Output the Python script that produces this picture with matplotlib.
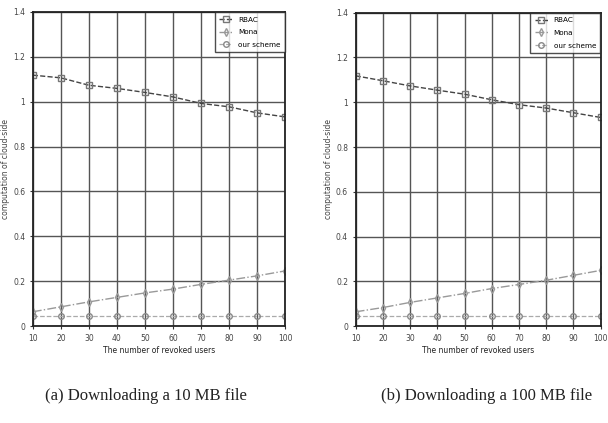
import matplotlib.pyplot as plt
import numpy as np

# revoked users on the x axis
users = [10, 20, 30, 40, 50, 60, 70, 80, 90, 100]

# (a) 10 MB file
rbac_a = [1.118, 1.106, 1.073, 1.059, 1.041, 1.021, 0.992, 0.977, 0.950, 0.932]
mona_a = [0.064, 0.086, 0.108, 0.128, 0.148, 0.165, 0.186, 0.205, 0.224, 0.246]
ours_a = [0.045, 0.045, 0.045, 0.045, 0.045, 0.045, 0.045, 0.045, 0.045, 0.045]

# (b) 100 MB file
rbac_b = [1.118, 1.096, 1.073, 1.054, 1.036, 1.011, 0.989, 0.974, 0.953, 0.932]
mona_b = [0.064, 0.083, 0.106, 0.126, 0.146, 0.168, 0.186, 0.205, 0.227, 0.249]
ours_b = [0.045, 0.045, 0.045, 0.045, 0.045, 0.045, 0.045, 0.045, 0.045, 0.045]

captions = ["(a) Downloading a 10 MB file", "(b) Downloading a 100 MB file"]
yticks = [0, 0.2, 0.4, 0.6, 0.8, 1, 1.2, 1.4]
ytick_labels = ["0", "0.2", "0.4", "0.6", "0.8", "1", "1.2", "1.4"]

fig = plt.figure(figsize=(6.08, 4.23), dpi=100)
ax1 = fig.add_axes([0.054, 0.229, 0.415, 0.743])
ax2 = fig.add_axes([0.585, 0.229, 0.403, 0.741])


def draw(ax, rbac, mona, ours):
    ax.plot(users, rbac, color='#444444', linestyle='--', marker='s', markersize=5,
            markerfacecolor='none', markeredgecolor='#777777', linewidth=1.0, label='RBAC')
    ax.plot(users, mona, color='#999999', linestyle='-.', marker='d', markersize=4,
            markerfacecolor='none', markeredgecolor='#999999', linewidth=1.0, label='Mona')
    ax.plot(users, ours, color='#aaaaaa', linestyle='--', marker='o', markersize=4,
            markerfacecolor='none', markeredgecolor='#888888', linewidth=0.9, label='our scheme')
    ax.set_xlim(10, 100)
    ax.set_ylim(0, 1.4)
    ax.set_xticks(users)
    ax.set_yticks(yticks)
    ax.set_yticklabels(ytick_labels)
    ax.tick_params(labelsize=5.5, length=2, color='#333333', labelcolor='#444444')
    ax.grid(True, color='#555555', linewidth=1.0)
    for s in ax.spines.values():
        s.set_linewidth(1.3)
        s.set_color('#222222')
    ax.set_xlabel("The number of revoked users", fontsize=5.5, color='#222222', labelpad=2)
    ax.set_ylabel("computation of cloud-side", fontsize=5.5, color='#444444', labelpad=2)
    leg = ax.legend(loc='upper right', fontsize=5.2, frameon=True, fancybox=False,
                    edgecolor='#222222', handlelength=1.8, borderaxespad=0.05,
                    labelspacing=0.9, borderpad=0.6)
    leg.get_frame().set_linewidth(1.0)


draw(ax1, rbac_a, mona_a, ours_a)
draw(ax2, rbac_b, mona_b, ours_b)

fig.text(0.24, 0.055, captions[0], fontsize=12, family='Liberation Serif', ha='center', color='#222222')
fig.text(0.80, 0.055, captions[1], fontsize=12, family='Liberation Serif', ha='center', color='#222222')

fig.savefig("out.png", dpi=100)
